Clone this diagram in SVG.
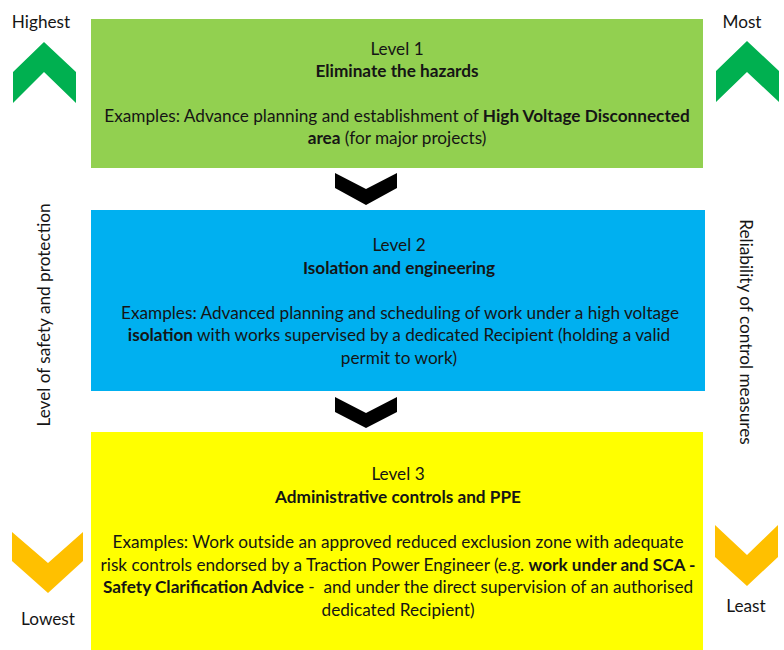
<svg xmlns="http://www.w3.org/2000/svg" width="784" height="650" viewBox="0 0 784 650">
<style>
text{font-family:Lato,"Liberation Sans",sans-serif;font-size:17.2px;fill:#151515}
.c{text-anchor:middle}
.b{font-weight:bold}
.up{fill:#00B050}
.dn{fill:#FFC000}
.blk{fill:#000}
</style>
<rect width="784" height="650" fill="#fff"/>
<g id="level1">
<rect x="91" y="19" width="612" height="149" fill="#92D050"/>
<text class="c" x="397" y="55">Level 1</text>
<text class="c b" x="397" y="77">Eliminate the hazards</text>
<text class="c" x="397" y="122">Examples: Advance planning and establishment of <tspan class="b">High Voltage Disconnected</tspan></text>
<text class="c" x="397" y="144"><tspan class="b">area</tspan> (for major projects)</text>
</g>
<g id="level2">
<rect x="91" y="210" width="614" height="181" fill="#00B0F0"/>
<text class="c" x="399" y="251">Level 2</text>
<text class="c b" x="399" y="274">Isolation and engineering</text>
<text class="c" x="400" y="319">Examples: Advanced planning and scheduling of work under a high voltage</text>
<text class="c" x="399" y="341"><tspan class="b">isolation</tspan> with works supervised by a dedicated Recipient (holding a valid</text>
<text class="c" x="399" y="364">permit to work)</text>
</g>
<g id="level3">
<rect x="91" y="432" width="612" height="218" fill="#FFFF00"/>
<text class="c" x="398" y="480">Level 3</text>
<text class="c b" x="398" y="503">Administrative controls and PPE</text>
<text class="c" x="398" y="548">Examples: Work outside an approved reduced exclusion zone with adequate</text>
<text class="c" x="398" y="571">risk controls endorsed by a Traction Power Engineer (e.g. <tspan class="b">work under and SCA -</tspan></text>
<text class="c" x="398" y="593"><tspan class="b">Safety Clarification Advice</tspan> -&#160; and under the direct supervision of an authorised</text>
<text class="c" x="398" y="616">dedicated Recipient)</text>
</g>
<g id="connectors">
<polygon class="blk" points="335,173 366,189 397,173 397,188 366,205 335,188"/>
<polygon class="blk" points="335,397 366,413 397,397 397,412 366,428 335,412"/>
</g>
<g id="left-scale">
<text class="c" x="41" y="28">Highest</text>
<polygon class="up" points="13,72 44,42 76,72 76,103 44,72 13,103"/>
<text class="c" transform="translate(50,315) rotate(-90)">Level of safety and protection</text>
<polygon class="dn" points="12,532 48,563 83,532 83,561 48,593 12,561"/>
<text class="c" x="48" y="625">Lowest</text>
</g>
<g id="right-scale">
<text class="c" x="742" y="28">Most</text>
<polygon class="up" points="716,71 747,41 779,71 779,102 747,72 716,102"/>
<text class="c" transform="translate(740,332) rotate(90)">Reliability of control measures</text>
<polygon class="dn" points="715,525 747,555 778,525 778,557 747,586 715,557"/>
<text class="c" x="746" y="612">Least</text>
</g>
</svg>
